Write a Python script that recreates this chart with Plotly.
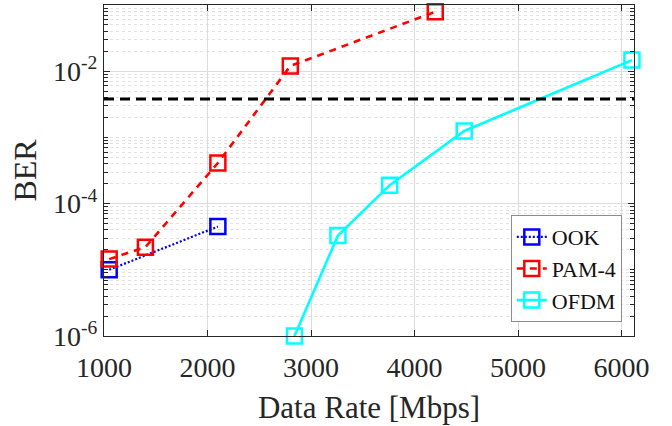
import plotly.graph_objects as go

# Data
ook_rate = [1050, 2100]
ook_ber = [1.0e-5, 4.5e-5]

pam4_rate = [1050, 1400, 2100, 2800, 4200]
pam4_ber = [1.45e-5, 2.2e-5, 4.1e-4, 1.2e-2, 7.9e-2]

ofdm_rate = [2840, 3260, 3760, 4480, 6100]
ofdm_ber = [1.0e-6, 3.3e-5, 1.9e-4, 1.25e-3, 1.47e-2]

fec_threshold = 3.8e-3

x_ticks = [1000, 2000, 3000, 4000, 5000, 6000]
y_ticks = [1e-6, 1e-4, 1e-2]
y_ticktext = ["10<sup>-6</sup>", "10<sup>-4</sup>", "10<sup>-2</sup>"]

FONT = "Liberation Serif"
TXT = "#262626"

fig = go.Figure()

def add_series(x, y, name, color, dash, width):
    fig.add_trace(go.Scatter(
        x=x, y=y, name=name, mode="lines+markers",
        line=dict(color=color, dash=dash, width=width),
        marker=dict(symbol="square-open", size=15, color=color,
                    line=dict(color=color, width=2.5)),
        cliponaxis=False,
    ))

add_series(ook_rate, ook_ber, "OOK", "#0000ff", "2px,2px", 2.2)
add_series(pam4_rate, pam4_ber, "PAM-4", "#ff0000", "7px,6px", 2.6)
add_series(ofdm_rate, ofdm_ber, "OFDM", "#00ffff", "solid", 2.6)

fig.add_hline(y=fec_threshold, line=dict(color="black", width=3, dash="10px,6px"))

fig.update_layout(
    width=672, height=426,
    margin=dict(l=104, r=38, t=5, b=90),
    paper_bgcolor="white", plot_bgcolor="white",
    font=dict(family=FONT, color=TXT, size=28),
    showlegend=True,
    hovermode=False,
    legend=dict(
        x=0.977, y=0.042, xanchor="right", yanchor="bottom",
        bgcolor="white", bordercolor="#8c8c8c", borderwidth=1,
        font=dict(family=FONT, size=22, color="#111"),
        itemwidth=30, tracegroupgap=0,
    ),
)

fig.update_xaxes(
    range=[1000, 6120], automargin=False,
    tickvals=x_ticks,
    ticks="inside", ticklen=6, tickcolor=TXT,
    showline=True, linecolor=TXT, linewidth=1, mirror="ticks",
    showgrid=True, gridcolor="#dcdcdc", gridwidth=1,
    zeroline=False,
    ticklabelstandoff=6,
    tickfont=dict(family=FONT, size=28, color=TXT),
    title=dict(text="Data Rate [Mbps]", font=dict(family=FONT, size=31, color=TXT), standoff=14),
)

fig.update_yaxes(
    type="log", range=[-6, -1], automargin=False,
    tickvals=y_ticks, ticktext=y_ticktext,
    ticks="inside", ticklen=6, tickcolor=TXT,
    showline=True, linecolor=TXT, linewidth=1, mirror="ticks",
    showgrid=True, gridcolor="#dcdcdc", gridwidth=1,
    zeroline=False,
    minor=dict(dtick="D1", showgrid=True, gridcolor="#e2e2e2", griddash="dot",
               ticks="inside", ticklen=4, tickcolor=TXT),
    tickfont=dict(family=FONT, size=28, color=TXT),
    title=dict(text="BER", font=dict(family=FONT, size=32, color=TXT), standoff=6),
)

fig.write_html("out.html", config={"displayModeBar": False},
               post_script="document.body.style.margin='0px';")
